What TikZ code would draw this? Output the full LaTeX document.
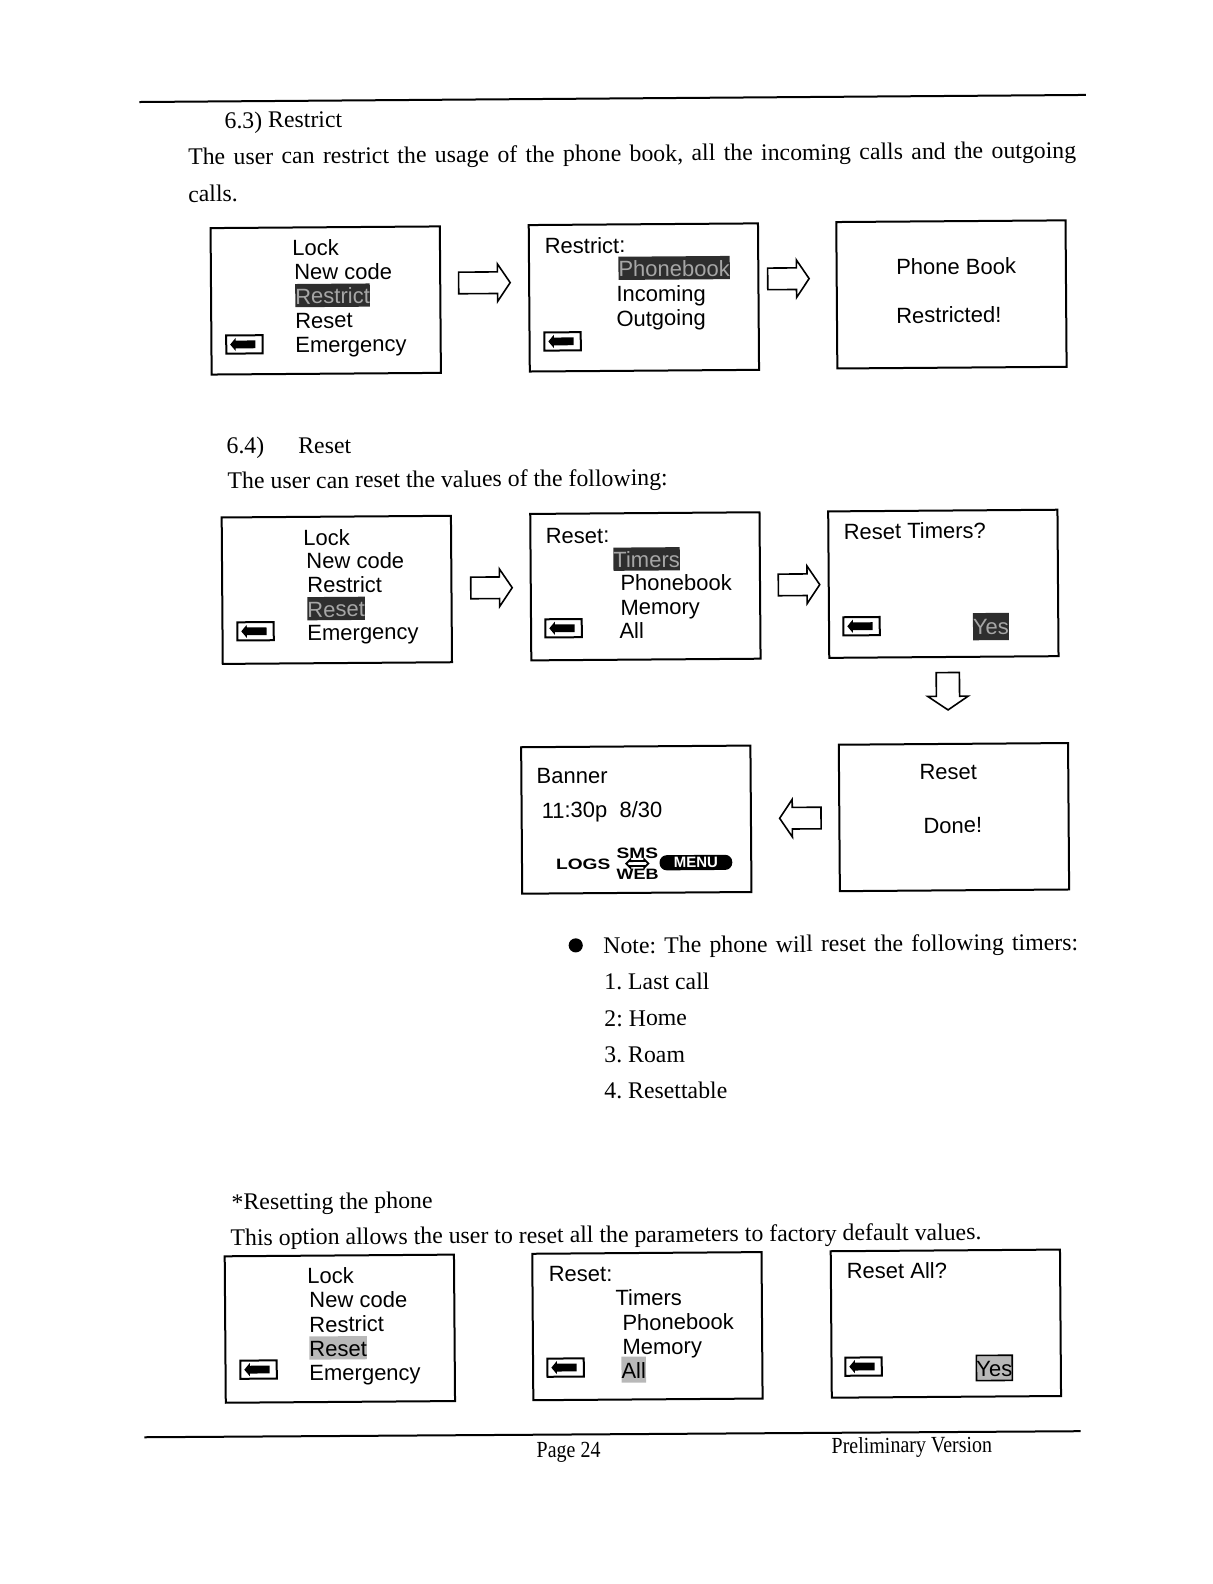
\documentclass[tikz,border=0pt]{standalone}
\usepackage{fontspec}
\setmainfont{Liberation Serif}
\newfontfamily\screenfont{Liberation Sans}
\usetikzlibrary{shapes.arrows}

\def \px {0.505pt} % one unit of the page
\def \tilt {0.42} % the page was scanned a bit skew

\tikzset{
  every node/.style={rotate=\tilt},
  body/.style={anchor=base west, inner sep=0, font=\fontsize{11.9}{14}\selectfont},
  foot/.style={anchor=base west, inner sep=0, font=\fontsize{10}{12}\selectfont, yscale=1.15},
  item/.style={anchor=base west, inner sep=0, font=\screenfont\fontsize{11}{13}\selectfont},
  screen/.style={draw, line width=1pt, minimum width=227*\px, minimum height=145*\px, inner sep=0},
  hilite/.style={item, fill=black!82, text=black!35, text height=10pt, text depth=1.6pt},
  hilitesoft/.style={item, fill=black!28, text=black, text height=10pt, text depth=1.6pt},
  blockarrow/.style={single arrow, draw, line width=0.8pt, inner sep=5pt,
    minimum height=41*\px, minimum width=36*\px, single arrow head extend=4pt,
    single arrow tip angle=112, single arrow head indent=0pt},
  iconbox/.style={draw, line width=1pt, minimum width=36*\px, minimum height=18*\px, inner sep=0},
  iconarrow/.style={single arrow, fill, inner sep=1.7pt, minimum height=25*\px, minimum width=13*\px,
    single arrow head extend=1.3pt, single arrow tip angle=100, shape border rotate=180},
  tiny/.style={anchor=base west, inner sep=0, font=\screenfont\bfseries\fontsize{7.5}{8}\selectfont, xscale=1.28}
}

\begin{document}
\frenchspacing
\begin{tikzpicture}[x=\px, y=-\px]
\useasboundingbox (0,0) rectangle (1200,1568.3);

% rules
\coordinate (topl) at (138,101);
\coordinate (topr) at (1075,94);
\coordinate (botl) at (143,1423);
\coordinate (botr) at (1070,1417);
\draw[line width=1pt] (topl) -- (topr);
\draw[line width=1pt] (botl) -- (botr);

% running text
\foreach \x/\y/\t [count=\s] in {
  222/127/{6.3) Restrict},
  186/200/{calls.},
  224/449/{6.4)},
  295/449/{Reset},
  225/484/{The user can reset the values of the following:},
  598/980/{1. Last call},
  598/1016/{2: Home},
  598/1052/{3. Roam},
  598/1088/{4. Resettable},
  229/1198/{*Resetting the phone},
  228/1233/{This option allows the user to reset all the parameters to factory default values.}}
{
  \node[body] (line\s) at (\x,\y) {\t};
}
\node[body] (intro) at (186,163) {\makebox[444pt][s]{The user can restrict the usage of the phone book, all the incoming calls and the outgoing}};
\node[body] (note) at (597,944) {\makebox[237.4pt][s]{Note: The phone will reset the following timers:}};
\node[circle, fill, inner sep=0, minimum size=14*\px] (bullet) at (570,936) {};
\node[foot] (page) at (531,1443) {Page 24};
\node[foot] (version) at (823,1439) {Preliminary Version};

% screens
\foreach \n/\x/\y in {lockA/322.5/297.5, restrict/637.5/294.5, booked/942/291.5,
  lockB/333.5/584, resetA/639/580.5, timers/934/578,
  banner/630/811.5, done/944.5/809,
  lockC/336.5/1315.5, resetB/641/1313, resetall/936.5/1310.5}
{
  \node[screen] (\n) at (\x,\y) {};
}

% screen texts
\foreach \x/\y/\t [count=\s] in {
  289/253/Lock, 291/277/New code, 292/325/Reset, 292/349/Emergency,
  539/251/Restrict:, 610/299/Incoming, 610/323/Outgoing,
  887/272/Phone Book, 887/320/Restricted!,
  300/540/Lock, 303/563/New code, 304/587/Restrict, 304/634/Emergency,
  540/538/Reset:, 614/585/Phonebook, 614/609/Memory, 613/632/All,
  835/534/Reset Timers?,
  531/776/Banner, 536/810/{11:30p\ \ 8/30},
  910/772/Reset, 914/825/Done!,
  304/1271/Lock, 306/1295/New code, 306/1319/Restrict, 306/1367/Emergency,
  543/1269/Reset:, 609/1293/Timers, 616/1317/Phonebook, 616/1341/Memory,
  838/1266/Reset All?}
{
  \node[item] (text\s) at (\x,\y) {\t};
}

% selected lines
\foreach \x/\y/\t [count=\s] in {292/301/Restrict, 612/274/Phonebook, 304/611/Reset, 607/562/Timers}
{
  \node[hilite] (sel\s) at (\x,\y) {\t};
}
\node[hilite, text height=10.6pt, text depth=3pt] (selyes) at (963,628) {Yes};
\node[hilitesoft] (softreset) at (306,1343) {Reset};
\node[hilitesoft, text height=11pt, text depth=2pt] (softall) at (615,1365) {All};
\node[hilitesoft, draw, line width=0.8pt, text height=10.6pt, text depth=2pt] (softyes) at (966,1363) {Yes};

% back keys
\foreach \n/\x/\y in {keyA/242/341, keyB/557/338, keyC/253/625, keyD/558/622, keyE/853/620,
  keyF/256/1356, keyG/560/1354, keyH/855/1353}
{
  \node[iconbox] (\n) at (\x,\y) {};
  \node[iconarrow] at (\n) {};
}

% arrows between the screens
\node[blockarrow, minimum height=51*\px] (goA) at (476,280) {};
\node[blockarrow] (goB) at (777,276) {};
\node[blockarrow] (goC) at (483,582) {};
\node[blockarrow] (goD) at (787.5,579) {};
\node[blockarrow, rotate=-90, minimum height=37*\px, minimum width=40*\px] (goE) at (938.5,680.5) {};
\node[blockarrow, rotate=180] (goF) at (796,810) {};

% bottom line of the banner
\node[tiny] (logs) at (550,861) {LOGS};
\node[tiny] (sms) at (610,850) {SMS};
\node[tiny, xscale=0.94] (web) at (610,871) {WEB};
\node[double arrow, draw, line width=0.9pt, inner sep=0.8pt, minimum height=22*\px, minimum width=8*\px,
  double arrow head extend=0.8pt] (swap) at (631,855) {};
\node[fill, text=white, rounded corners=3.6pt, inner sep=0, minimum width=72*\px, minimum height=15*\px,
  font=\screenfont\bfseries\fontsize{7.5}{8}\selectfont] (menu) at (689,854) {MENU};

\end{tikzpicture}
\end{document}
